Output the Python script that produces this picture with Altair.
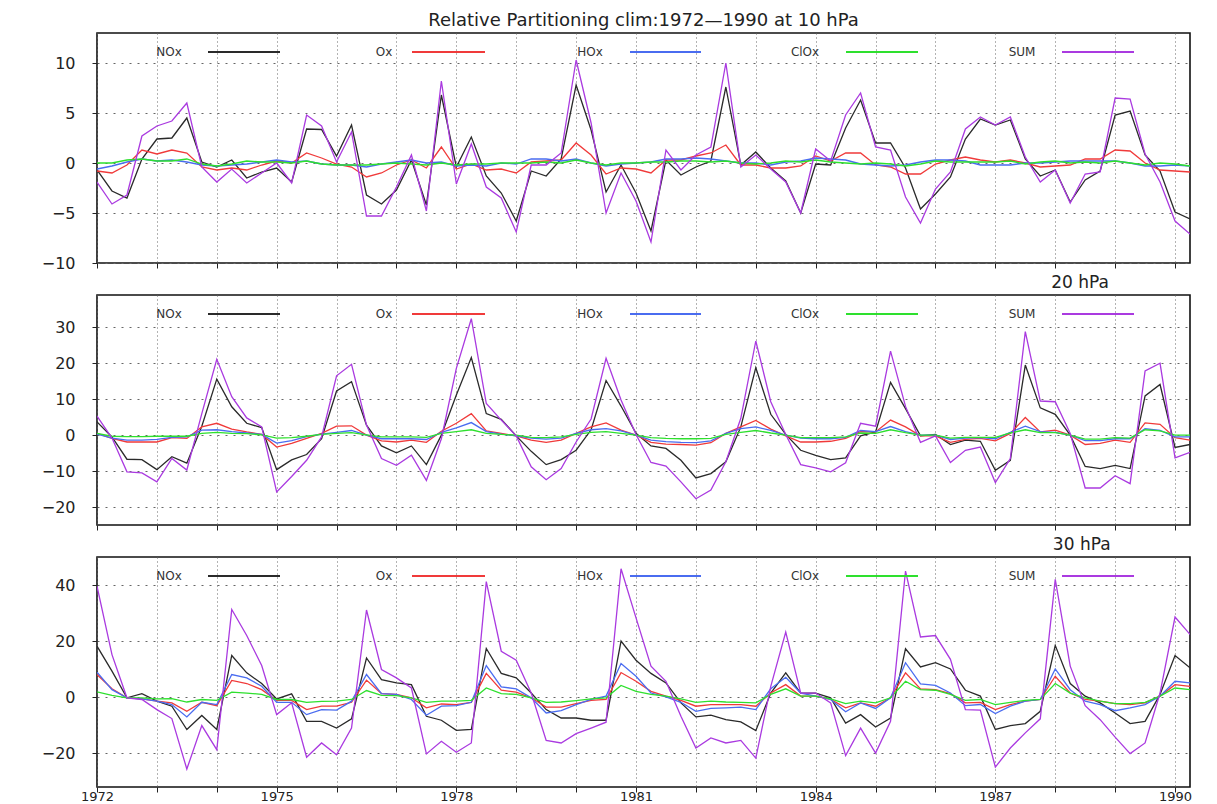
import altair as alt
import pandas as pd

# Seasonal (quarterly) time axis, 1972.0 ... 1990.25
years = [1972 + 0.25 * i for i in range(74)]

series_names = ["NOx", "Ox", "HOx", "ClOx", "SUM"]
series_colors = ["#2a2a2a", "#f03a3a", "#4a6cf0", "#2ee02e", "#aa3ae0"]

# ---- 10 hPa ----
nox_10 = [-0.7, -2.8, -3.5, 0.4, 2.4, 2.5, 4.5, 0.1, -0.4, 0.3,
          -1.5, -0.9, -0.5, -1.9, 3.4, 3.35, 0.7, 3.8, -3.2, -4.1,
          -2.7, 0.3, -4.2, 6.8, -0.4, 2.6, -1.3, -3.0, -5.8, -0.8,
          -1.3, 0.4, 7.8, 3.3, -2.9, -0.2, -3.0, -6.8, 0.3, -1.2,
          -0.4, 0.2, 7.6, -0.2, 1.1, -0.5, -1.8, -5.0, -0.1, -0.2,
          3.5, 6.3, 2.0, 2.0, -0.5, -4.6, -3.1, -1.4, 2.4, 4.4,
          3.8, 4.3, 0.4, -1.3, -0.7, -3.9, -1.7, -0.8, 4.8, 5.2,
          0.8, -0.8, -4.9, -5.6]
ox_10 = [-0.8, -1.0, -0.2, 1.3, 0.9, 1.3, 1.0, -0.4, -0.7, -0.5,
         -0.7, -0.2, 0.2, 0.0, 1.0, 0.5, -0.1, -0.4, -1.4, -1.0,
         -0.2, 0.3, -0.5, 1.6, -0.6, -0.1, -0.7, -0.6, -1.0, 0.1,
         0.2, 0.3, 2.0, 0.8, -1.1, -0.5, -0.6, -1.0, 0.3, 0.3,
         0.7, 1.0, 1.8, -0.2, -0.2, -0.5, -0.5, -0.3, 0.7, 0.2,
         1.0, 1.0, -0.2, -0.4, -1.1, -1.1, -0.1, 0.3, 0.6, 0.3,
         0.1, 0.3, 0.0, -0.4, -0.3, -0.2, 0.4, 0.4, 1.3, 1.2,
         0.0, -0.7, -0.8, -0.9]
hox_10 = [-0.6, -0.3, 0.1, 0.4, 0.2, 0.3, 0.1, -0.2, -0.3, -0.2,
          -0.1, 0.1, 0.3, 0.1, 0.2, -0.1, -0.2, -0.2, -0.4, -0.1,
          0.1, 0.3, 0.0, 0.1, -0.3, -0.2, -0.3, 0.0, -0.1, 0.4,
          0.4, 0.2, 0.4, 0.0, -0.3, -0.1, 0.0, 0.1, 0.4, 0.4,
          0.5, 0.4, 0.2, 0.0, 0.0, -0.2, 0.1, 0.2, 0.5, 0.4,
          0.3, -0.1, -0.2, -0.3, -0.2, 0.1, 0.3, 0.3, 0.2, -0.2,
          -0.2, -0.2, 0.0, 0.0, 0.1, 0.2, 0.2, 0.2, 0.2, 0.0,
          -0.3, -0.3, -0.2, -0.3]
clox_10 = [0.0, 0.0, 0.3, 0.4, 0.2, 0.2, 0.4, -0.1, -0.3, -0.1,
           0.2, 0.1, 0.1, 0.0, 0.2, -0.1, -0.2, -0.2, -0.2, -0.1,
           0.0, -0.1, -0.2, 0.0, -0.2, -0.1, -0.1, 0.0, 0.0, 0.0,
           0.1, 0.0, 0.3, 0.0, -0.2, 0.0, 0.0, 0.1, 0.1, 0.2,
           0.2, 0.1, 0.2, 0.0, -0.1, 0.0, 0.2, 0.1, 0.3, 0.1,
           0.0, -0.1, 0.0, -0.1, -0.3, -0.1, 0.2, 0.1, 0.1, 0.1,
           0.1, 0.2, -0.1, 0.1, 0.2, 0.0, 0.1, 0.0, 0.2, 0.0,
           -0.2, 0.0, -0.1, -0.3]
sum_10 = [-1.9, -4.1, -3.2, 2.7, 3.7, 4.2, 6.0, -0.4, -1.9, -0.6,
          -2.0, -1.0, 0.0, -2.0, 4.8, 3.7, 0.1, 3.1, -5.3, -5.3,
          -2.4, 0.8, -4.8, 8.2, -2.1, 1.9, -2.4, -3.5, -6.9, -0.2,
          -0.2, 1.0, 10.3, 4.0, -5.0, -1.0, -3.8, -7.9, 1.3, -0.7,
          0.8, 1.6, 10.0, -0.4, 0.8, -0.6, -1.9, -5.0, 1.4, 0.2,
          4.8, 7.0, 1.6, 1.3, -3.4, -6.0, -2.6, -0.9, 3.4, 4.6,
          3.8, 4.6, 0.6, -1.9, -0.7, -4.0, -1.1, -0.9, 6.5, 6.4,
          0.9, -1.9, -5.8, -7.1]

# ---- 20 hPa ----
nox_20 = [3.7, -0.5, -6.7, -6.8, -9.6, -6.0, -7.8, 2.5, 15.6, 7.9,
          3.3, 2.1, -9.6, -6.9, -5.4, -1.0, 12.3, 14.9, 2.8, -3.0,
          -4.9, -3.0, -8.2, 0.0, 11.2, 21.6, 6.0, 4.4, -0.2, -4.5,
          -8.2, -6.8, -4.2, 1.5, 15.2, 8.1, 0.5, -3.0, -3.7, -7.0,
          -11.9, -10.7, -7.4, 2.3, 18.8, 5.8, 0.2, -4.2, -5.6, -6.8,
          -6.3, -0.2, 0.9, 14.7, 7.4, -0.2, 0.2, -2.6, -1.4, -1.7,
          -9.8, -7.0, 19.5, 7.6, 5.8, 0.0, -8.7, -9.3, -8.4, -9.3,
          10.9, 14.1, -3.4, -2.6]
ox_20 = [0.5, -0.9, -1.9, -1.9, -1.9, -0.7, -0.9, 2.3, 3.3, 1.7,
         0.9, 0.2, -3.3, -2.3, -0.9, 0.5, 2.5, 2.6, 0.0, -1.6,
         -1.9, -1.4, -2.0, 1.1, 3.3, 6.0, 1.2, 0.5, -0.2, -1.4,
         -2.0, -1.4, 0.5, 2.3, 3.4, 1.4, 0.0, -2.0, -2.5, -2.6,
         -2.8, -2.1, 0.5, 2.3, 4.1, 1.7, -0.2, -1.9, -1.9, -1.7,
         -0.9, 1.0, 0.9, 4.2, 2.3, -0.2, -0.2, -2.0, -1.2, -0.9,
         -1.6, 0.5, 4.9, 0.9, 1.4, 0.0, -2.6, -2.3, -1.4, -2.0,
         3.4, 3.0, -0.7, -1.4]
hox_20 = [0.3, -0.8, -1.4, -1.4, -1.2, -0.6, -0.5, 1.4, 1.5, 1.0,
          0.6, 0.2, -2.2, -1.5, -0.4, 0.3, 0.8, 1.3, 0.0, -1.0,
          -1.0, -1.0, -1.2, 0.8, 2.0, 3.5, 1.0, 0.3, -0.2, -0.8,
          -1.1, -0.8, 0.5, 1.5, 1.8, 1.2, 0.0, -1.4, -1.8, -2.0,
          -2.1, -1.6, 0.5, 1.8, 2.3, 1.3, 0.0, -0.8, -1.0, -1.0,
          -0.6, 1.3, 1.0, 2.4, 1.0, 0.0, 0.0, -1.2, -0.8, -0.7,
          -1.0, 0.8, 2.5, 1.0, 0.8, 0.0, -1.5, -1.5, -1.0, -1.0,
          1.8, 1.3, -0.5, -0.5]
clox_20 = [0.5, -0.3, -0.4, -0.4, -0.3, -0.3, -0.3, 0.5, 0.8, 0.5,
           0.4, 0.1, -0.8, -0.7, -0.3, 0.2, 0.5, 0.7, 0.1, -0.5,
           -0.5, -0.5, -0.6, 0.5, 1.0, 1.5, 0.5, 0.2, 0.0, -0.6,
           -0.7, -0.5, 0.2, 0.8, 1.0, 0.5, 0.0, -0.7, -0.9, -1.0,
           -1.0, -0.9, 0.2, 0.8, 1.3, 0.6, 0.0, -0.7, -0.7, -0.7,
           -0.5, 0.6, 0.5, 1.5, 0.7, 0.0, 0.0, -0.8, -0.6, -0.6,
           -0.6, 0.6, 1.5, 0.7, 0.7, 0.0, -1.1, -1.1, -0.7, -0.8,
           1.5, 1.2, 0.0, 0.0]
sum_20 = [5.3, -0.8, -10.2, -10.5, -13.0, -6.5, -9.7, 6.0, 21.1, 10.7,
          4.8, 2.3, -15.8, -11.5, -7.0, -0.5, 16.5, 19.7, 2.8, -6.5,
          -8.4, -5.6, -12.6, -1.0, 18.6, 32.4, 8.8, 4.2, -0.2, -8.8,
          -12.4, -9.3, -1.9, 4.5, 21.4, 9.8, 0.2, -7.6, -8.6, -13.0,
          -17.7, -15.3, -7.4, 4.7, 26.2, 9.3, 0.2, -8.2, -9.1, -10.2,
          -7.7, 3.3, 2.5, 23.4, 8.0, -2.0, -0.2, -7.6, -4.2, -3.3,
          -13.2, -6.5, 28.8, 9.5, 9.3, 0.5, -14.7, -14.7, -11.3, -13.5,
          17.9, 20.0, -6.3, -4.8]

# ---- 30 hPa ----
nox_30 = [18.2, 9.3, -0.2, 1.3, -1.4, -3.2, -11.5, -6.5, -11.5, 14.9,
          8.7, 4.9, -0.6, 1.2, -8.6, -8.6, -11.0, -7.7, 14.0, 6.3,
          5.1, 4.5, -6.8, -8.2, -11.8, -11.5, 17.4, 8.5, 6.9, 1.5,
          -4.4, -7.4, -7.4, -8.2, -8.2, 20.0, 13.2, 8.5, 5.1, -2.0,
          -7.0, -6.4, -8.0, -8.8, -11.9, 1.5, 8.7, 1.5, 1.5, -0.2,
          -9.2, -6.2, -10.6, -7.4, 17.3, 10.8, 12.3, 10.1, 2.5, 0.4,
          -11.5, -10.1, -9.4, -5.0, 18.5, 4.9, 0.4, -2.0, -5.6, -9.4,
          -8.6, 1.0, 14.9, 10.5]
ox_30 = [8.1, 3.0, -0.2, -0.6, -1.4, -2.0, -5.0, -1.8, -3.0, 6.0,
         4.9, 2.7, -1.1, -1.1, -4.4, -3.2, -3.2, -1.8, 6.1, 1.3,
         1.0, -0.2, -3.8, -2.4, -2.6, -1.8, 8.5, 2.5, 1.8, -0.2,
         -3.5, -3.5, -2.3, -1.1, -0.8, 8.8, 5.7, 2.1, 0.4, -1.1,
         -3.2, -2.6, -2.6, -2.6, -3.2, 1.5, 4.5, 0.4, 0.4, -0.8,
         -3.8, -2.0, -3.2, -0.2, 8.7, 3.0, 2.7, 1.3, -2.0, -1.8,
         -4.4, -2.6, -1.4, -0.8, 7.5, 1.5, -0.8, -1.4, -2.3, -2.6,
         -2.0, 0.4, 4.5, 3.9]
hox_30 = [8.9, 2.7, -0.2, -0.6, -1.4, -2.6, -7.0, -1.8, -2.6, 8.1,
          6.9, 3.9, -1.8, -1.8, -6.2, -4.4, -4.6, -1.4, 8.1, 1.3,
          1.0, -0.8, -6.4, -3.2, -3.0, -1.8, 11.3, 3.7, 3.0, -0.2,
          -5.6, -4.8, -2.6, -0.8, 0.4, 12.0, 7.5, 1.5, 0.1, -1.8,
          -5.0, -4.0, -3.8, -3.5, -4.4, 3.0, 7.1, 1.5, 0.4, -0.8,
          -5.2, -2.0, -4.0, -0.2, 12.3, 4.8, 4.2, 1.5, -3.0, -2.6,
          -5.8, -3.2, -1.4, -0.8, 10.1, 2.7, -1.4, -2.6, -4.8, -3.8,
          -2.6, 0.4, 5.7, 5.1]
clox_30 = [1.9, 0.7, -0.2, -0.2, -0.6, -0.5, -1.7, -0.8, -1.1, 1.8,
           1.5, 1.0, -0.8, -0.8, -1.8, -1.5, -1.4, -0.8, 2.4, 0.7,
           0.6, -0.2, -1.8, -1.4, -1.4, -1.1, 3.3, 1.3, 1.0, -0.2,
           -1.8, -1.7, -1.2, -0.6, -0.2, 4.2, 2.1, 1.0, 0.4, -0.6,
           -1.8, -1.4, -1.7, -1.8, -2.0, 1.0, 3.0, 0.4, 0.4, -0.6,
           -2.3, -1.4, -2.0, -0.2, 5.7, 2.7, 2.5, 1.0, -1.1, -0.8,
           -2.6, -1.8, -1.1, -0.8, 4.9, 1.5, -0.2, -1.4, -2.3, -2.3,
           -1.8, 0.4, 3.3, 2.7]
sum_30 = [39.6, 15.2, -0.2, -0.8, -4.4, -7.6, -25.6, -10.1, -18.7, 31.3,
          22.0, 11.3, -6.2, -2.0, -21.4, -16.3, -20.5, -11.0, 31.1, 9.9,
          6.9, 3.3, -20.2, -15.7, -19.6, -16.3, 41.2, 16.4, 13.2, 1.5,
          -15.4, -16.3, -13.0, -11.0, -8.9, 45.8, 28.3, 11.1, 5.7, -6.8,
          -18.1, -14.5, -16.3, -15.4, -21.7, 3.9, 23.2, 1.5, 1.5, -2.0,
          -20.8, -11.0, -19.9, -8.6, 45.0, 21.5, 22.0, 13.5, -4.4, -4.6,
          -24.9, -18.1, -12.7, -7.7, 42.0, 11.1, -3.0, -8.0, -14.2, -20.1,
          -16.3, 1.5, 28.6, 22.4]

year_ticks = list(range(1972, 1991))
x_domain = [1972, 1990.25]

FONT = "DejaVu Sans"
PANEL_W, PANEL_H = 1093, 230

# in-panel key: label centre, line start, line end (pixels from panel's left edge)
key_label_x = [72, 287, 493, 708, 925]
key_line_x = [(111, 183), (315, 388), (533, 604), (749, 821), (965, 1037)]
KEY_Y = 19


def panel(values, y_domain, y_ticks, title, show_years):
    x_axis = alt.Axis(
        values=year_ticks, grid=True, gridDash=[1, 3], gridColor="#666",
        gridWidth=1, ticks=True, tickSize=5, tickColor="#222", domain=False,
        labels=show_years, format="d", labelFontSize=13, labelFont=FONT,
        labelColor="#222", labelPadding=-2, labelBaseline="top",
        labelFlush=False, labelOverlap=False,
        labelExpr="(datum.value - 1972) % 3 == 0 ? datum.label : ''",
        title=None,
    )
    y_axis = alt.Axis(
        values=y_ticks, grid=True, gridDash=[2, 6], gridColor="#666",
        gridWidth=1, ticks=True, tickSize=5, tickColor="#222", domain=False,
        labelFontSize=16, labelFont=FONT, labelColor="#222", labelPadding=17,
        title=None,
    )
    x = alt.X("year:Q", scale=alt.Scale(domain=x_domain, nice=False, zero=False),
              axis=x_axis)
    y = alt.Y("value:Q", scale=alt.Scale(domain=y_domain, nice=False, zero=False),
              axis=y_axis)

    layers = []
    for name, color, vals in zip(series_names, series_colors, values):
        df = pd.DataFrame({"year": years, "value": vals})
        layers.append(
            alt.Chart(df).mark_line(color=color, strokeWidth=1.3, clip=True)
            .encode(x=x, y=y)
        )
    for name, color, lx, (x1, x2) in zip(series_names, series_colors,
                                          key_label_x, key_line_x):
        lab = pd.DataFrame({"label": [name]})
        layers.append(
            alt.Chart(lab).mark_text(align="center", baseline="middle",
                                     fontSize=12, font=FONT, color="#333")
            .encode(x=alt.value(lx), y=alt.value(KEY_Y), text="label:N")
        )
        layers.append(
            alt.Chart(lab).mark_rule(color=color, strokeWidth=2)
            .encode(x=alt.value(x1), x2=alt.value(x2), y=alt.value(KEY_Y))
        )
    return alt.layer(*layers).properties(width=PANEL_W, height=PANEL_H,
                                         title=title)


t_main = alt.TitleParams("Relative Partitioning clim:1972\u20141990 at 10 hPa",
                         anchor="middle", fontSize=18, font=FONT,
                         fontWeight="normal", color="#222", offset=3)
t_20 = alt.TitleParams("20 hPa", anchor="end", dx=-81, fontSize=17, font=FONT,
                       fontWeight="normal", color="#222", offset=3)
t_30 = alt.TitleParams("30 hPa", anchor="end", dx=-81, fontSize=17, font=FONT,
                       fontWeight="normal", color="#222", offset=3)

p10 = panel([nox_10, ox_10, hox_10, clox_10, sum_10], [-10, 13],
            [-10, -5, 0, 5, 10], t_main, False)
p20 = panel([nox_20, ox_20, hox_20, clox_20, sum_20], [-25, 39],
            [-20, -10, 0, 10, 20, 30], t_20, False)
p30 = panel([nox_30, ox_30, hox_30, clox_30, sum_30], [-32, 50],
            [-20, 0, 20, 40], t_30, True)

chart = (
    alt.vconcat(p10, p20, p30, spacing=32, bounds="flush")
    .properties(padding={"left": 40, "top": 11, "right": 10, "bottom": 0},
                background="white")
    .configure_view(stroke="#111", strokeWidth=1.6)
)

chart.save("out.html", embed_options={"renderer": "svg", "actions": False})
